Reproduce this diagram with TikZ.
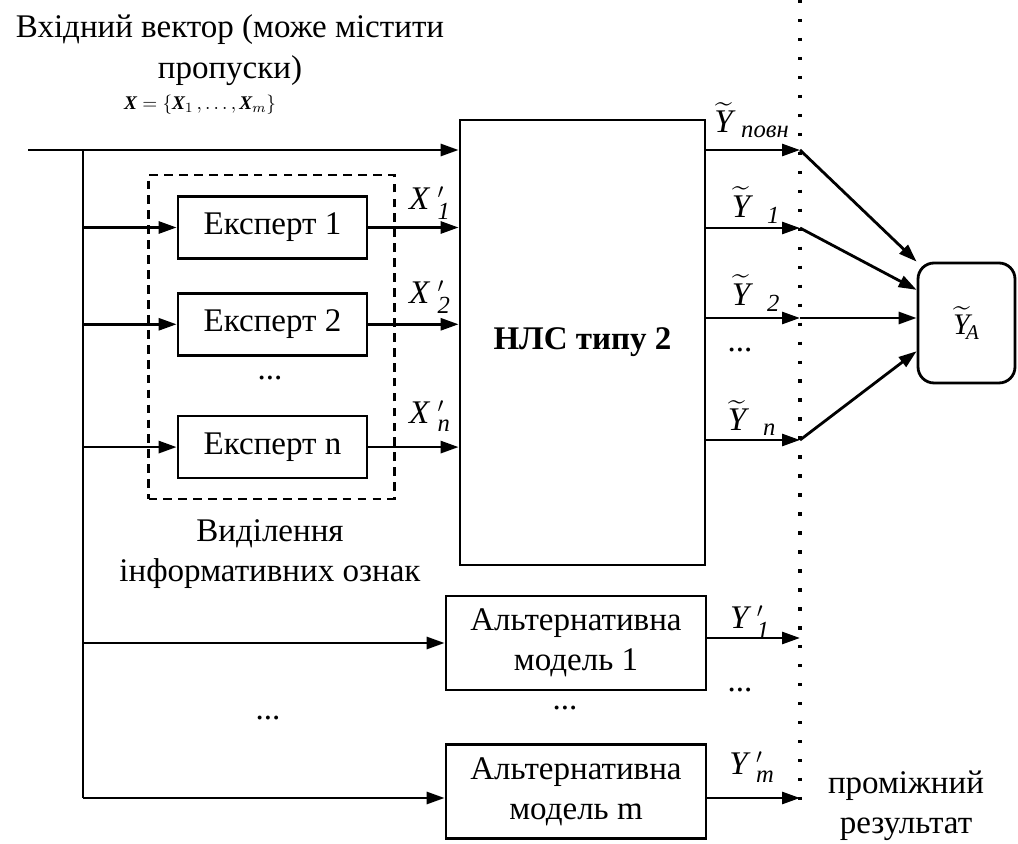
\documentclass[tikz,border=0pt]{standalone}
\usepackage{fontspec}
\setmainfont{Liberation Serif}
\usepackage{amsmath}
\usetikzlibrary{arrows.meta, positioning, calc}
\tikzstyle{block} = [rectangle, draw=black, line width=1.6pt, text centered, align=center]
\tikzstyle{expertbox} = [block, minimum width=3.78cm, minimum height=1.24cm]
\tikzstyle{altbox} = [block, minimum width=5.2cm, minimum height=1.88cm]
\tikzstyle{wire} = [line width=1.6pt]
\tikzstyle{arrow} = [line width=1.6pt, -{Triangle[length=3.6mm,width=2.4mm]}]
\tikzstyle{dotline} = [line width=1.9pt, dash pattern=on 1.9pt off 8.9pt]
\tikzstyle{frame} = [rectangle, draw=black, line width=1.3pt, dash pattern=on 5pt off 3.5pt]
\newcommand{\lblsub}[1]{\text{\fontsize{14}{14}\selectfont\itshape #1}}

\begin{document}
\begin{tikzpicture}[x=0.02cm, y=-0.02cm, font=\fontsize{18.8}{23}\selectfont]
\useasboundingbox (0,0) rectangle (1018,844);

% Nodes
\node (nls) [block, minimum width=4.9cm, minimum height=8.9cm, font=\fontsize{18.8}{23}\selectfont\bfseries] at (582.5,342.5) {НЛС типу 2};
\node (sel) [rectangle, frame, minimum width=4.92cm, minimum height=6.48cm] at (271.5,337) {};
\node (e1) [expertbox] at (272.5,227.5) {Експерт 1};
\node (e2) [expertbox, below=0.64cm of e1] {Експерт 2};
\node (en) [expertbox, below=1.16cm of e2] {Експерт n};
\node (alt1) [altbox] at (576,643) {Альтернативна\\модель 1};
\node (altm) [altbox, below=1.04cm of alt1] {Альтернативна\\модель m};
\node (res) [block, rounded corners=0.32cm, minimum width=1.94cm, minimum height=2.4cm, font=\fontsize{17}{19}\selectfont] at (966.5,323) {$\widetilde{\textit{Y}}_{\!\textit{A}}$};

% Bus and dotted border
\coordinate (in) at (28,150);
\coordinate (bus) at (83,150);
\coordinate (busend) at (83,798);
\coordinate (dtop) at (800,0);
\coordinate (dbot) at (800,808);
\coordinate (o0) at (800,150);
\coordinate (o1) at (800,228);
\coordinate (o2) at (800,318);
\coordinate (on) at (800,440);
\coordinate (a1) at (800,638);
\coordinate (am) at (800,798);
\draw [dotline] (dtop) -- (dbot);

% Arrows
\draw [wire] (bus) -- (busend);
\draw [arrow] (in) -- (in -| nls.west);
\foreach \e in {e1,e2,en} {
  \draw [arrow] (bus |- \e.west) -- (\e.west);
  \draw [arrow] (\e.east) -- (\e.east -| nls.west);
}
\draw [arrow] (bus |- alt1.west) -- (alt1.west);
\draw [arrow] (busend) -- (busend -| altm.west);
\foreach \o in {o0,o1,o2,on} \draw [arrow] (\o -| nls.east) -- (\o);
\draw [arrow] (a1 -| alt1.east) -- (a1);
\draw [arrow] (am -| altm.east) -- (am);
\draw [arrow] (o0) -- (res.north west);
\draw [arrow] (o1) -- ($(res.north west)!0.23!(res.south west)$);
\draw [arrow] (o2) -- (o2 -| res.west);
\draw [arrow] (on) -- ($(res.north west)!0.73!(res.south west)$);

% Labels
\node (title) [align=center] at (230,50) {Вхідний вектор (може містити\\пропуски)};
\node (vec) [font=\fontsize{11}{13}\selectfont\bfseries] at (200,105) {$\textit{X} = \{\textit{X}_{1}\,, \ldots, \textit{X}_{m}\}$};
\node (sellbl) [align=center] at (270,554) {Виділення\\інформативних ознак};
\node (mid) [align=center] at (906,806) {проміжний\\результат};
\node (lx1) at (430,203) {$\textit{X}\;{}'_{\lblsub{1}}$};
\node (lx2) at (430,297) {$\textit{X}\;{}'_{\lblsub{2}}$};
\node (lxn) at (430,416) {$\textit{X}\;{}'_{\lblsub{n}}$};
\node (ly0) at (752,120) {$\widetilde{\textit{Y}}\;{}_{\lblsub{повн}}$};
\node (ly1) at (756,205) {$\widetilde{\textit{Y}}\;\;{}_{\lblsub{1}}$};
\node (ly2) at (756,293) {$\widetilde{\textit{Y}}\;\;{}_{\lblsub{2}}$};
\node (lyn) at (752,418) {$\widetilde{\textit{Y}}\;\;{}_{\lblsub{n}}$};
\node (la1) at (750,622) {$\textit{Y}\;{}'_{\lblsub{1}}$};
\node (lam) at (752,767) {$\textit{Y}\;{}'_{\lblsub{m}}$};
\node (dexp) at (270,378) {...};
\node (dout) at (740,350) {...};
\node (dalt) at (565,708) {...};
\node (dalto) at (740,690) {...};
\node (dbus) at (268,718) {...};

\end{tikzpicture}
\end{document}
